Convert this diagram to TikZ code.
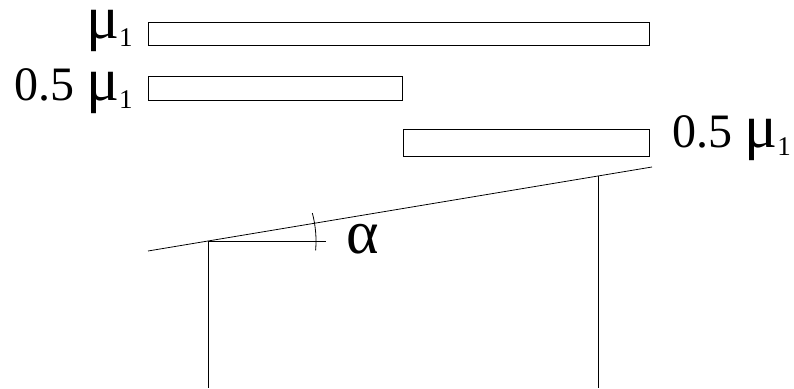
\documentclass[tikz,border=0pt]{standalone}
\usepackage{fontspec}
\setmainfont{Liberation Serif}
\usetikzlibrary{positioning}
\newcommand{\mulbl}{\scalebox{1.4}{\fontsize{44}{44}\selectfont μ}\raisebox{-8pt}{\fontsize{27}{27}\selectfont 1}}
\begin{document}
\begin{tikzpicture}[x=1pt, y=-1pt, line width=0.8pt,
    lbl/.style={inner sep=0pt, font=\fontsize{48}{48}\selectfont}]
    \useasboundingbox (0,0) rectangle (794,388);
    % bars
    \draw (148,22) rectangle (649,45);
    \draw (148,76) rectangle (402,100);
    \draw (403,129) rectangle (649,156);
    \node [lbl, anchor=base east] (top) at (133,38) {\mulbl};
    \node [lbl, anchor=base east] (half) at (133,100) {0.5 \mulbl};
    \node [lbl, anchor=base west] (halfr) at (672,147) {0.5 \mulbl};
    % roof and walls
    \coordinate (eaveL) at (208,241);
    \coordinate (eaveR) at (598,175.5);
    \draw (148,251) -- (652,167);
    \draw (eaveL) -- (208,388);
    \draw (eaveR) -- (598,388);
    \draw (eaveL) -- (326,241);
    \draw (eaveL) ++(5:108) arc (5:-15:108);
    \node [lbl, anchor=base west, font=\fontsize{62}{62}\selectfont] (alpha) at (346,253) {α};
  \end{tikzpicture}
\end{document}
